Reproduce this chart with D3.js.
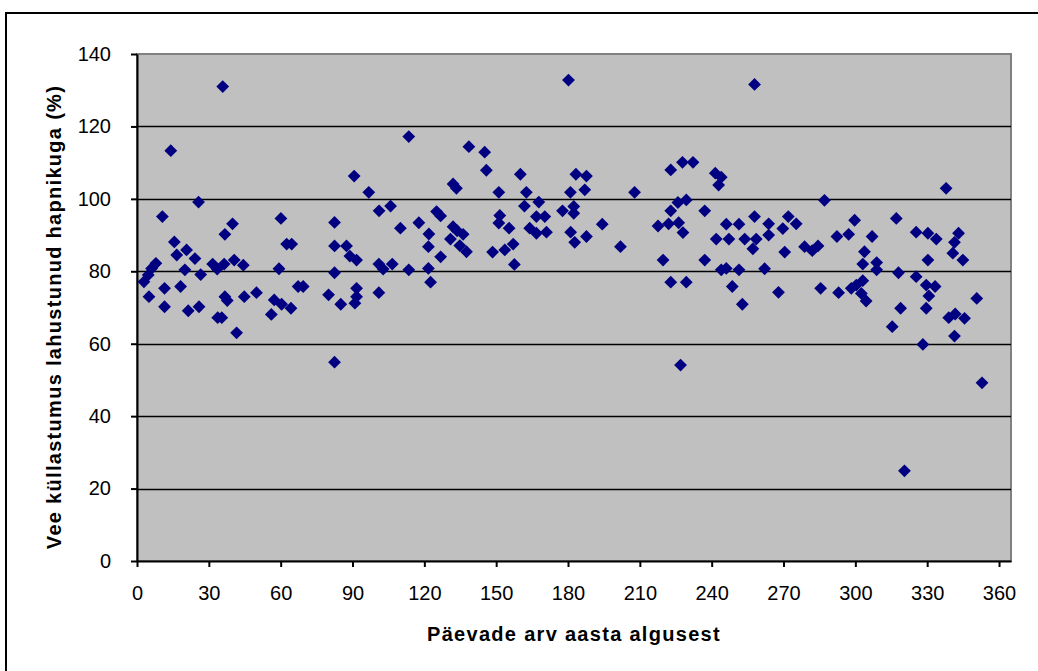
<!DOCTYPE html>
<html>
<head>
<meta charset="utf-8">
<script src="https://cdn.jsdelivr.net/npm/d3@7"></script>
<style>
    body { margin: 0; background: #fff; }
    svg text { font-family: "Liberation Sans", Arial, sans-serif; }
</style>
</head>
<body>
<div id="chart"></div>
<script>
// päev aasta algusest
var paev = [2.9, 4.7, 5.0, 6.1, 7.9, 10.6, 11.5, 11.5, 14.1, 15.6, 16.6, 18.2, 20.0, 20.7, 21.4, 24.2, 25.7, 25.9, 26.6,
    31.6, 33.5, 33.7, 35.4, 35.8, 36.4, 36.7, 36.7, 37.7, 39.9, 40.6, 41.6, 44.4, 44.8, 49.9, 56.1, 57.3, 59.3, 60.1,
    60.4, 62.5, 64.3, 64.6, 67.3, 69.4, 80.0, 82.5, 82.5, 82.5, 82.5, 85.1, 87.5, 88.9, 90.7, 91.0, 91.7, 91.7, 91.7,
    96.8, 101.0, 101.0, 101.1, 102.8, 105.9, 106.6, 110.0, 113.5, 113.5, 117.7, 121.7, 121.7, 121.9, 122.6, 125.1,
    126.8, 126.8, 130.9, 132.0, 132.0, 133.4, 133.7, 134.8, 136.2, 137.6, 138.6, 145.2, 145.9, 148.5, 151.1, 151.1,
    151.5, 153.6, 155.4, 157.1, 157.6, 160.1, 161.8, 162.6, 164.0, 166.8, 166.8, 167.8, 170.3, 171.0, 177.7, 180.2,
    181.0, 181.1, 182.4, 182.4, 182.8, 183.3, 187.0, 187.7, 187.7, 194.3, 201.9, 207.8, 217.6, 219.7, 222.0, 222.9,
    222.9, 222.9, 225.9, 226.2, 227.0, 227.8, 228.0, 229.4, 229.4, 232.2, 237.1, 237.1, 241.5, 241.9, 242.9, 244.0,
    244.0, 246.1, 246.1, 247.2, 248.6, 251.4, 251.4, 252.8, 253.8, 257.2, 257.9, 257.9, 258.6, 262.1, 263.8, 263.8,
    267.9, 269.7, 270.5, 272.0, 275.3, 278.8, 282.0, 284.4, 285.5, 287.1, 292.3, 293.0, 297.2, 298.3, 299.7, 300.4,
    302.5, 303.1, 303.1, 303.8, 304.5, 307.0, 308.9, 308.9, 315.4, 317.1, 318.0, 318.9, 320.5, 325.4, 325.4, 328.2,
    329.6, 329.6, 330.3, 330.3, 330.7, 333.3, 333.8, 337.9, 339.0, 340.7, 341.4, 341.4, 341.7, 343.1, 344.9, 345.6,
    350.7, 352.9];

// hapnikuga küllastumus, %
var kyllastus = [77.1, 79.0, 73.0, 80.8, 82.2, 95.1, 75.3, 70.2, 113.3, 88.1, 84.5, 75.8, 80.4, 85.9, 69.1, 83.5, 99.1, 70.2, 79.1,
    82.0, 80.6, 67.2, 67.2, 131.0, 82.0, 90.2, 73.0, 71.9, 93.1, 83.1, 63.0, 81.7, 73.0, 74.1, 68.1, 72.1, 80.7, 94.6,
    70.9, 87.5, 69.8, 87.5, 75.8, 75.8, 73.5, 93.5, 87.0, 79.6, 54.9, 70.9, 87.0, 84.2, 106.3, 71.2, 83.1, 73.0, 75.3,
    101.8, 82.0, 74.1, 96.7, 80.6, 98.0, 82.0, 91.9, 117.2, 80.4, 93.4, 86.8, 80.8, 90.3, 77.0, 96.5,
    95.3, 84.0, 88.9, 104.1, 92.3, 102.9, 91.2, 87.1, 90.2, 85.4, 114.4, 112.9, 107.9, 85.3, 101.8, 93.3,
    95.4, 85.9, 91.9, 87.5, 81.9, 106.8, 98.0, 101.8, 91.9, 95.1, 90.5, 99.1, 95.1, 90.8, 96.7, 132.8,
    101.8, 90.8, 97.9, 96.0, 88.0, 106.8, 102.5, 106.3, 89.6, 93.0, 86.8, 101.8, 92.5, 83.1, 93.1, 108.0,
    96.7, 77.0, 99.0, 93.4, 54.1, 110.1, 90.7, 99.7, 77.0, 110.1, 96.7, 83.1, 107.1, 88.9, 103.8, 106.0,
    80.4, 93.0, 80.8, 88.9, 75.8, 93.0, 80.4, 70.9, 88.9, 86.2, 131.6, 95.1, 88.9, 80.7, 93.1, 90.0,
    74.2, 91.8, 85.3, 95.1, 93.1, 86.8, 85.7, 87.0, 75.3, 99.6, 89.6, 74.1, 90.2, 75.3, 94.1, 76.2,
    73.9, 77.4, 82.0, 85.4, 71.8, 89.6, 82.4, 80.4, 64.7, 94.6, 79.6, 69.8, 24.9, 90.8, 78.5, 59.8,
    76.2, 69.8, 90.5, 83.1, 73.2, 75.8, 88.9, 102.9, 67.2, 85.0, 88.0, 62.1, 68.2, 90.5, 83.1, 67.0,
    72.5, 49.2];

var xTicks = [0, 30, 60, 90, 120, 150, 180, 210, 240, 270, 300, 330, 360];
var yTicks = [0, 20, 40, 60, 80, 100, 120, 140];

var xTitle = 'Päevade arv aasta algusest';
var yTitle = 'Vee küllastumus lahustunud hapnikuga (%)';

var width = 1038, height = 671;
var margin = {top: 54, right: 27, bottom: 110, left: 137};
var w = width - margin.left - margin.right;
var h = height - margin.top - margin.bottom;

var svg = d3.select('#chart')
    .append('svg')
    .attr('width', width)
    .attr('height', height);

// chart area frame (runs off the page right and bottom)
svg.append('rect')
    .attr('x', 6)
    .attr('y', 13)
    .attr('width', 1200)
    .attr('height', 1000)
    .attr('fill', 'none')
    .attr('stroke', '#000')
    .attr('stroke-width', 2);

var g = svg.append('g')
    .attr('transform', 'translate(' + margin.left + ',' + margin.top + ')');

var x = d3.scaleLinear().domain([0, 365]).range([0, w]);
var y = d3.scaleLinear().domain([0, 140]).range([h, 0]);

g.append('rect')
    .attr('width', w)
    .attr('height', h)
    .attr('fill', '#c0c0c0')
    .attr('stroke', '#808080')
    .attr('stroke-width', 2);

// grid
g.selectAll('line.grid')
    .data(yTicks.filter(function (d) { return d > 0 && d < 140; }))
    .enter()
    .append('line')
    .attr('class', 'grid')
    .attr('x1', 0)
    .attr('x2', w)
    .attr('y1', function (d) { return Math.round(y(d)) + 0.5; })
    .attr('y2', function (d) { return Math.round(y(d)) + 0.5; })
    .attr('stroke', '#000')
    .attr('stroke-width', 1.5);

var xAxis = g.append('g')
    .attr('transform', 'translate(0,' + h + ')')
    .call(d3.axisBottom(x).tickValues(xTicks).tickSize(6).tickPadding(19).tickSizeOuter(0));

var yAxis = g.append('g')
    .call(d3.axisLeft(y).tickValues(yTicks).tickSize(6).tickPadding(20).tickSizeOuter(0));

[xAxis, yAxis].forEach(function (ax) {
    ax.select('.domain').attr('stroke', '#000').attr('stroke-width', 2);
    ax.selectAll('.tick line').attr('stroke', '#000').attr('stroke-width', 2);
    ax.selectAll('.tick text')
        .attr('fill', '#000')
        .style('font-size', '20px');
});

// points
var diamond = d3.symbol().type(d3.symbolSquare).size(82);

g.selectAll('path.pt')
    .data(d3.range(paev.length))
    .enter()
    .append('path')
    .attr('class', 'pt')
    .attr('d', diamond)
    .attr('transform', function (i) {
        return 'translate(' + x(paev[i]) + ',' + y(kyllastus[i]) + ') rotate(45)';
    })
    .attr('fill', '#000080');

// titles
svg.append('text')
    .attr('x', margin.left + w / 2)
    .attr('y', 641)
    .attr('text-anchor', 'middle')
    .style('font-size', '20px')
    .style('font-weight', 'bold')
    .style('letter-spacing', '1.3px')
    .text(xTitle);

svg.append('text')
    .attr('transform', 'translate(61,317) rotate(-90)')
    .attr('text-anchor', 'middle')
    .style('font-size', '20px')
    .style('font-weight', 'bold')
    .style('letter-spacing', '1.3px')
    .text(yTitle);
</script>
</body>
</html>
